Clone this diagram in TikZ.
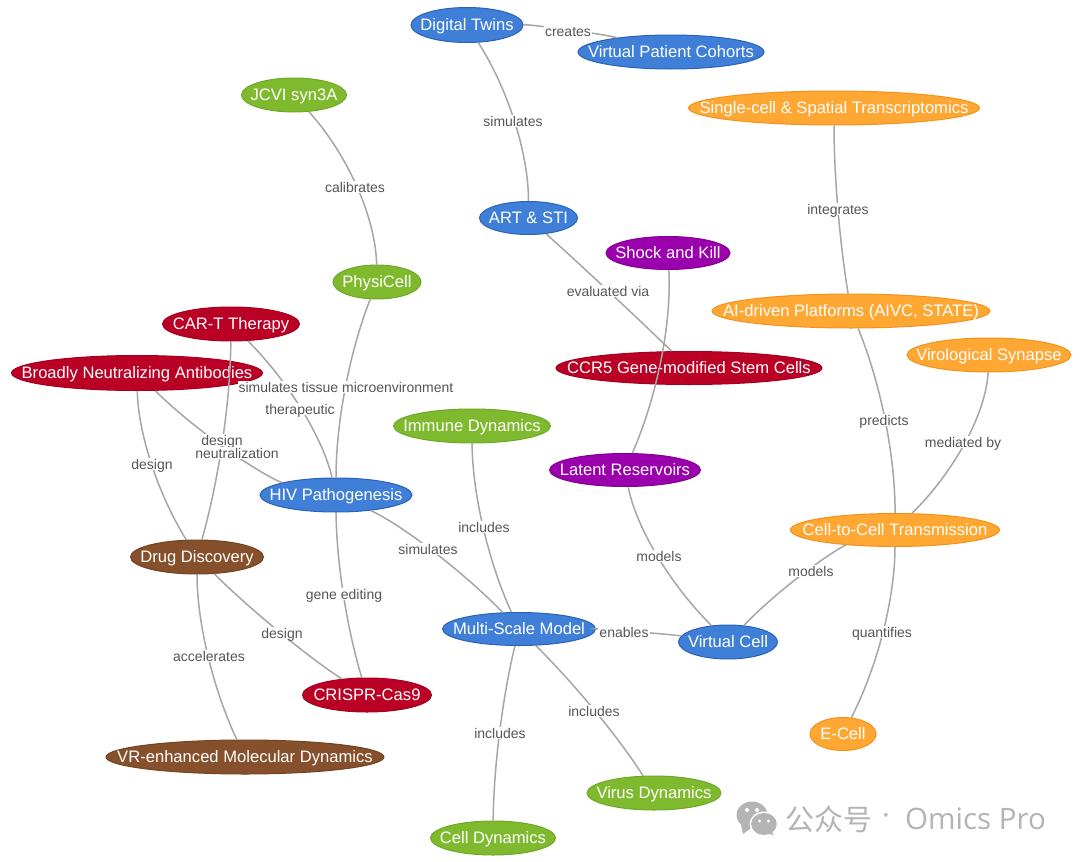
\documentclass[tikz,border=0pt]{standalone}
\usepackage{fontspec}
\setmainfont{Liberation Sans}
\newfontfamily\cjkwm{Noto Sans CJK SC}
\newfontfamily\latwm{Open Sans}
\definecolor{bluef}{HTML}{3F7FD8}\definecolor{blued}{HTML}{2A62B8}
\definecolor{orangef}{HTML}{FFA733}\definecolor{oranged}{HTML}{F2931C}
\definecolor{greenf}{HTML}{7FBA2E}\definecolor{greend}{HTML}{6FA828}
\definecolor{redf}{HTML}{BA0025}\definecolor{redd}{HTML}{A50020}
\definecolor{purplef}{HTML}{9A00AB}\definecolor{purpled}{HTML}{850095}
\definecolor{brownf}{HTML}{85502B}\definecolor{brownd}{HTML}{734422}
\definecolor{edgec}{HTML}{A6A6A6}\definecolor{labc}{HTML}{555555}\definecolor{wmc}{HTML}{B4B4B4}
\usetikzlibrary{shapes.geometric,calc}
\tikzset{
 ent/.style={ellipse,inner sep=0pt,line width=1pt,text=white,text height=13pt,text depth=1.5pt,font=\fontsize{16.6}{18}\selectfont},
 blueent/.style={ent,fill=bluef,draw=blued},
 orangeent/.style={ent,fill=orangef,draw=oranged},
 greenent/.style={ent,fill=greenf,draw=greend},
 redent/.style={ent,fill=redf,draw=redd},
 purpleent/.style={ent,fill=purplef,draw=purpled},
 brownent/.style={ent,fill=brownf,draw=brownd},
 rel/.style={draw=edgec,line width=1.5pt},
 lab/.style={fill=white,inner xsep=1pt,inner ysep=0pt,text height=11pt,text depth=1pt,text=labc,font=\fontsize{14}{15}\selectfont},
 wm/.style={fill=wmc,draw=none},
 wmeye/.style={fill=white,draw=none}
}
\newcommand{\ent}[7]{\node[#6,minimum width=#4pt,minimum height=#5pt] (#1) at (#2,#3) {\makebox[0pt][c]{#7}};}
\newcommand{\rlab}[4]{\node[lab] (#1) at (#2,#3) {#4};}
\newcommand{\rel}[4]{\draw[rel] (#1) .. controls ($(#1.center)!0.667!(#3,#4)$) and ($(#2.center)!0.667!(#3,#4)$) .. (#2);}
\begin{document}
\begin{tikzpicture}[x=1pt,y=-1pt]
\useasboundingbox (0,0) rectangle (1080,862);
\fill[white] (0,0) rectangle (1080,862);
\ent{dt}{467}{25}{112}{35}{blueent}{Digital Twins}
\ent{vpc}{671}{52}{186}{34}{blueent}{Virtual Patient Cohorts}
\ent{jcvi}{294}{95}{105}{34}{greenent}{JCVI syn3A}
\ent{single}{834}{108}{291}{34}{orangeent}{Single-cell \& Spatial Transcriptomics}
\ent{art}{528.5}{218}{98}{33}{blueent}{ART \& STI}
\ent{shock}{668}{253}{124}{33}{purpleent}{Shock and Kill}
\ent{phys}{377}{282}{88}{34}{greenent}{PhysiCell}
\ent{cart}{231}{324}{137}{34}{redent}{CAR-T Therapy}
\ent{ai}{851}{311}{278}{34}{orangeent}{AI-driven Platforms (AIVC, STATE)}
\ent{bnab}{137}{373}{251}{35}{redent}{Broadly Neutralizing Antibodies}
\ent{ccr}{689}{368}{266}{33}{redent}{CCR5 Gene-modified Stem Cells}
\ent{viro}{989}{355}{164}{34}{orangeent}{Virological Synapse}
\ent{imm}{472}{426}{157}{34}{greenent}{Immune Dynamics}
\ent{lat}{625}{470}{151}{33}{purpleent}{Latent Reservoirs}
\ent{hiv}{336}{495}{152}{34}{blueent}{HIV Pathogenesis}
\ent{c2c}{895}{530}{209}{33}{orangeent}{Cell-to-Cell Transmission}
\ent{dd}{197}{557}{133}{34}{brownent}{Drug Discovery}
\ent{msm}{519}{629}{153}{33}{blueent}{Multi-Scale Model}
\ent{vc}{728}{642}{99}{34}{blueent}{Virtual Cell}
\ent{cris}{367}{695}{129}{34}{redent}{CRISPR-Cas9}
\ent{ecell}{843}{734}{66}{33}{orangeent}{E-Cell}
\ent{vr}{245}{757}{278}{34}{brownent}{VR-enhanced Molecular Dynamics}
\ent{virus}{654}{793}{134}{34}{greenent}{Virus Dynamics}
\ent{cell}{493}{838}{125}{34}{greenent}{Cell Dynamics}
\rel{dt}{vpc}{567}{24.5}
\rel{dt}{art}{528.5}{121}
\rel{jcvi}{phys}{375}{185.5}
\rel{phys}{hiv}{336}{386}
\rel{cart}{hiv}{316.5}{409.5}
\rel{cart}{dd}{230}{440}
\rel{bnab}{hiv}{239}{472.5}
\rel{bnab}{dd}{138.5}{463}
\rel{hiv}{cris}{336.5}{594}
\rel{dd}{cris}{282}{640.5}
\rel{dd}{vr}{197}{655}
\rel{hiv}{msm}{428.5}{536.5}
\rel{imm}{msm}{472.5}{526.5}
\rel{msm}{cell}{494}{732.5}
\rel{msm}{virus}{602}{711}
\rel{msm}{vc}{624.5}{628.5}
\rel{lat}{vc}{641.5}{556}
\rel{c2c}{vc}{810.5}{556}
\rel{c2c}{ecell}{895}{632}
\rel{ai}{c2c}{895.5}{419.5}
\rel{viro}{c2c}{984.5}{442}
\rel{single}{ai}{834}{208.5}
\rel{art}{ccr}{607.5}{289}
\rel{shock}{lat}{673.5}{358.5}
\rlab{l1}{568}{31}{creates}
\rlab{l2}{513}{121}{simulates}
\rlab{l3}{355}{187}{calibrates}
\rlab{l4}{346}{387}{simulates tissue microenvironment}
\rlab{l5}{300}{409}{therapeutic}
\rlab{l6}{222}{440}{design}
\rlab{l7}{237}{453}{neutralization}
\rlab{l8}{152}{464}{design}
\rlab{l9}{344}{594}{gene editing}
\rlab{l10}{282}{633}{design}
\rlab{l11}{209}{656}{accelerates}
\rlab{l12}{428}{549}{simulates}
\rlab{l13}{484}{527}{includes}
\rlab{l14}{500}{733}{includes}
\rlab{l15}{594}{711}{includes}
\rlab{l16}{624}{632}{enables}
\rlab{l17}{659}{556}{models}
\rlab{l18}{811}{571}{models}
\rlab{l19}{882}{632}{quantifies}
\rlab{l20}{884}{420}{predicts}
\rlab{l21}{963}{442}{mediated by}
\rlab{l22}{838}{209}{integrates}
\rlab{l23}{608}{291}{evaluated via}
% watermark
\fill[wm] (752,815) ellipse (15.5 and 13.5);
\fill[wm] (741,825) -- (743,834) -- (751,828) -- cycle;
\fill[wmeye] (747,810) circle (2); \fill[wmeye] (757,810) circle (2);
\fill[white] (764,824) ellipse (14.5 and 12.5);
\fill[wm] (764,824) ellipse (12.8 and 11);
\fill[wm] (766,833) -- (773,835) -- (772,828) -- cycle;
\fill[wmeye] (759.5,821) circle (1.7); \fill[wmeye] (768.5,821) circle (1.7);
\node[text=wmc,font=\cjkwm\fontsize{29}{30}\selectfont,anchor=west,inner sep=0pt] (wmcn) at (785,819) {公众号};
\node[text=wmc,font=\latwm\fontsize{29}{30}\selectfont,anchor=west,inner sep=0pt] (wmdot) at (882,819) {·};
\node[text=wmc,font=\latwm\fontsize{29.5}{30}\selectfont,anchor=west,inner sep=0pt] (wmen) at (905,819) {Omics Pro};
\end{tikzpicture}
\end{document}
